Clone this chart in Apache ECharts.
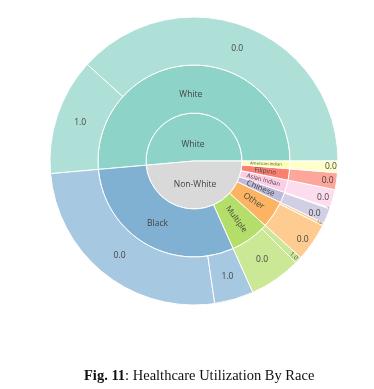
<!DOCTYPE html>
<html>
<head>
<meta charset="utf-8">
<script src="https://cdn.jsdelivr.net/npm/echarts@6/dist/echarts.min.js"></script>
<style>
html,body{margin:0;padding:0;background:#fff;}
#chart{width:374px;height:389px;}
</style>
</head>
<body>
<div id="chart"></div>
<script>
// ---- data ----
const groups = ['White', 'Non-White'];
const races = ['White', 'Black', 'Multiple', 'Other', 'Chinese', 'Asian Indian', 'Filipino', 'American Indian'];
const raceGroup = ['White', 'Non-White', 'Non-White', 'Non-White', 'Non-White', 'Non-White', 'Non-White', 'Non-White'];
const utilLabels = ['0.0', '1.0'];
const util0 = [383, 259, 58, 43, 17, 21, 19, 13];
const util1 = [131, 44, 8, 3, 1, 0, 0, 0];

// ---- styles ----
const groupColors = {'White': '#8dd3c7', 'Non-White': '#d9d9d9'};
const raceColors = ['#8dd3c7', '#80b1d3', '#b3de69', '#fdb462', '#bebada', '#fccde5', '#fb8072', '#ffffb3'];
function lighten(hex, a) {
  const n = parseInt(hex.slice(1), 16);
  const r = (n >> 16) & 255, g = (n >> 8) & 255, b = n & 255;
  const m = c => Math.round(c * a + 255 * (1 - a));
  return 'rgb(' + m(r) + ',' + m(g) + ',' + m(b) + ')';
}
const raceLabelStyle = {
  'White': {formatter: '\n{b}', lineHeight: 12},
  'Multiple': {rotate: 'radial', fontSize: 8},
  'Other': {rotate: 'radial', fontSize: 8.5},
  'Chinese': {rotate: 'radial', fontSize: 8},
  'Asian Indian': {rotate: 'radial', fontSize: 6},
  'Filipino': {rotate: 'radial', fontSize: 6.5},
  'American Indian': {rotate: 'radial', fontSize: 4.2}
};
const leafLabelStyle = {
  'Multiple|1.0': {rotate: 'radial', fontSize: 6, align: 'right', distance: 2},
  'Other|0.0': {align: 'right', distance: 5},
  'Other|1.0': {rotate: 'radial', fontSize: 3.5, align: 'right', distance: 2},
  'Chinese|0.0': {align: 'right', distance: 7},
  'Chinese|1.0': {rotate: 'radial', fontSize: 2, align: 'right', distance: 1},
  'Asian Indian|0.0': {align: 'right', distance: 4},
  'Filipino|0.0': {align: 'right', distance: 3},
  'American Indian|0.0': {align: 'right', distance: 1}
};

// ---- build tree ----
const tree = groups.map(g => {
  const children = [];
  races.forEach((r, i) => {
    if (raceGroup[i] !== g) return;
    const leaves = [];
    const vals = [util0[i], util1[i]];
    vals.forEach((v, k) => {
      if (v > 0) {
        const key = r + '|' + utilLabels[k];
        leaves.push({
          name: utilLabels[k],
          value: v,
          itemStyle: {color: lighten(raceColors[i], 0.7)},
          label: Object.assign({}, leafLabelStyle[key] || {})
        });
      }
    });
    children.push({
      name: r,
      itemStyle: {color: raceColors[i]},
      label: Object.assign({}, raceLabelStyle[r] || {}),
      children: leaves
    });
  });
  return {
    name: g,
    itemStyle: {color: groupColors[g]},
    label: g === 'White' ? {formatter: '\n{b}', lineHeight: 16} : {},
    children: children
  };
});

const chart = echarts.init(document.getElementById('chart'), null, {renderer: 'canvas'});
chart.setOption({
  backgroundColor: '#ffffff',
  animation: false,
  title: {
    text: '{b|Fig. 11}: Healthcare Utilization By Race',
    left: 79,
    top: 364,
    textStyle: {
      fontFamily: 'Liberation Serif',
      fontSize: 14.5,
      fontWeight: 'normal',
      color: '#111',
      rich: {
        b: {fontFamily: 'Liberation Serif', fontSize: 14.5, fontWeight: 'bold', color: '#111'}
      }
    }
  },
  series: [{
    type: 'sunburst',
    center: [194, 161],
    startAngle: 0,
    clockwise: false,
    sort: null,
    nodeClick: false,
    emphasis: {disabled: true},
    data: tree,
    itemStyle: {borderColor: '#ffffff', borderWidth: 1},
    label: {
      rotate: 0,
      color: '#444',
      fontFamily: 'Open Sans',
      fontSize: 8.5
    },
    levels: [
      {},
      {r0: 0, r: 48},
      {r0: 48, r: 96},
      {r0: 96, r: 144}
    ]
  }]
});
</script>
</body>
</html>
